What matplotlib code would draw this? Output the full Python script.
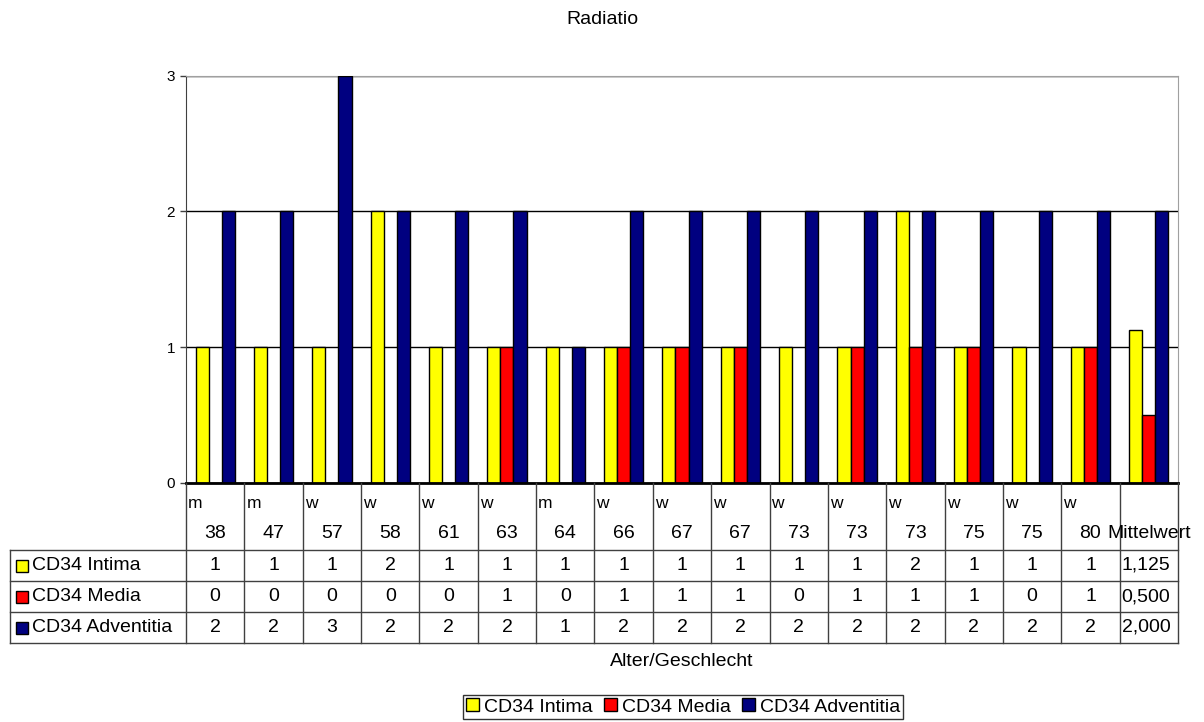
import numpy as np
import matplotlib
matplotlib.use('Agg')
import matplotlib.pyplot as plt
from matplotlib.patches import Rectangle

plt.rcParams['font.family'] = ['Liberation Sans', 'DejaVu Sans']

# Daten
geschlecht = ['m', 'm', 'w', 'w', 'w', 'w', 'm', 'w', 'w', 'w', 'w', 'w', 'w', 'w', 'w', 'w', '']
alter = ['38', '47', '57', '58', '61', '63', '64', '66', '67', '67', '73', '73', '73', '75', '75', '80', 'Mittelwert']
intima = [1, 1, 1, 2, 1, 1, 1, 1, 1, 1, 1, 1, 2, 1, 1, 1, 1.125]
media = [0, 0, 0, 0, 0, 1, 0, 1, 1, 1, 0, 1, 1, 1, 0, 1, 0.5]
adventitia = [2, 2, 3, 2, 2, 2, 1, 2, 2, 2, 2, 2, 2, 2, 2, 2, 2.0]

serien = ['CD34 Intima', 'CD34 Media', 'CD34 Adventitia']
farben = ['#FFFF00', '#FF0000', '#000080']
werte = [intima, media, adventitia]

W, H = 1204, 722
fig = plt.figure(figsize=(W / 100, H / 100), dpi=100)

ax = fig.add_axes([186 / W, 1 - 483 / H, (1178 - 186) / W, (483 - 75.5) / H])
n = len(alter)
x = np.arange(n)
bw = 0.2245
balken = []
for k, (name, farbe, v) in enumerate(zip(serien, farben, werte)):
    b = ax.bar(x + (k - 1) * bw, v, width=bw, color=farbe, edgecolor='black',
               linewidth=1, label=name, zorder=3)
    balken.append(b)

ax.set_xlim(-0.5, n - 0.5)
ax.set_ylim(0, 3)
ax.set_yticks([0, 1, 2, 3])
ax.set_xticks([])
ax.tick_params(axis='y', labelsize=11, length=4, width=1, color='#404040', pad=4)
ax.yaxis.grid(True, color='black', linewidth=1)
ax.set_axisbelow(True)
ax.spines['left'].set_color('#404040')
ax.spines['bottom'].set_color('black')
ax.spines['bottom'].set_linewidth(2)
ax.spines['bottom'].set_zorder(5)
ax.spines['top'].set_color('#a0a0a0')
ax.spines['right'].set_color('#a0a0a0')

fig.text(0.5, 1 - 20 / H, 'Radiatio', ha='center', va='center', fontsize=14)

# Datentabelle unter dem Diagramm
tab = fig.add_axes([0, 0, 1, 1])
tab.set_xlim(0, W)
tab.set_ylim(H, 0)
tab.axis('off')

fig.canvas.draw()
grenzen = [ax.transData.transform((i - 0.5, 0))[0] for i in range(n + 1)]
y0 = H - ax.transData.transform((0, 0))[1]
kopf_unten = y0 + 67
zeile = 31
lx = 10
unten = kopf_unten + 3 * zeile
lc = '#404040'

for xb in grenzen:
    tab.plot([xb, xb], [y0, unten], color=lc, lw=1)
tab.plot([lx, lx], [kopf_unten, unten], color=lc, lw=1)
for r in range(4):
    yy = kopf_unten + r * zeile
    tab.plot([lx, grenzen[-1]], [yy, yy], color=lc, lw=1)

for i in range(n):
    links, rechts = grenzen[i], grenzen[i + 1]
    mitte = (links + rechts) / 2
    if geschlecht[i]:
        tab.text(links + 2, y0 + 20, geschlecht[i], ha='left', va='center', fontsize=12.5)
    tab.text(mitte, y0 + 50, alter[i], ha='center', va='center', fontsize=14)
    for r, v in enumerate(werte):
        yy = kopf_unten + (r + 0.5) * zeile
        if i == n - 1:
            txt = f'{v[i]:.3f}'.replace('.', ',')
            tab.text(links + 2, yy, txt, ha='left', va='center', fontsize=14)
        else:
            tab.text(mitte, yy, f'{v[i]:g}', ha='center', va='center', fontsize=14)

for r, (name, farbe) in enumerate(zip(serien, farben)):
    yy = kopf_unten + (r + 0.5) * zeile
    tab.add_patch(Rectangle((16, yy - 6), 12, 12, facecolor=farbe, edgecolor='black', lw=1))
    tab.text(32, yy, name, ha='left', va='center', fontsize=14)

tab.text((grenzen[0] + grenzen[-1]) / 2, 661, 'Alter/Geschlecht', ha='center', va='center', fontsize=14)

leg = fig.legend(balken, serien, loc='center', bbox_to_anchor=(683 / W, 1 - 707 / H),
                 ncol=3, fontsize=14, frameon=True, fancybox=False, edgecolor='black',
                 borderpad=0.15, handlelength=0.65, handleheight=0.65, handletextpad=0.25,
                 columnspacing=0.6, borderaxespad=0)
leg.get_frame().set_linewidth(1)

fig.savefig('out.png', dpi=100)
